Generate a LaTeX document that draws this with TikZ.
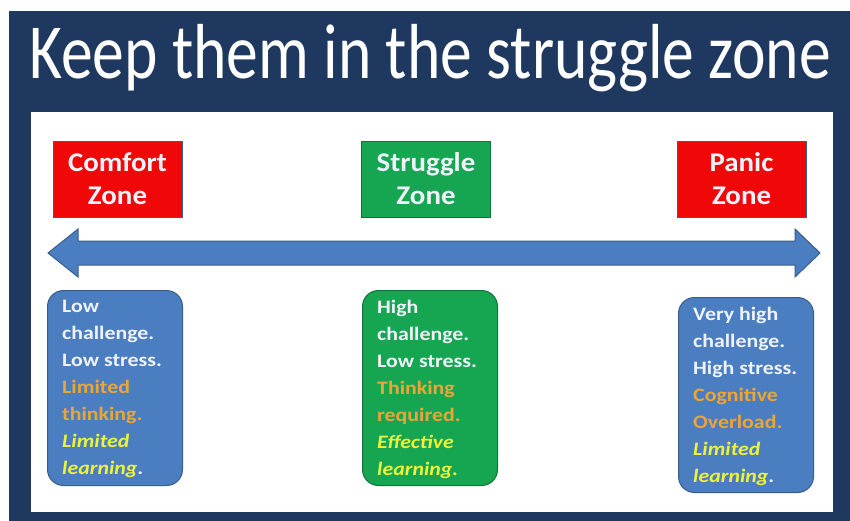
\documentclass[tikz,border=0pt]{standalone}
\usepackage{fontspec}
\setmainfont{Carlito}
\newfontfamily\titlefont[FakeStretch=0.815]{Carlito}
\newfontfamily\zonefont[FakeStretch=1.07]{Carlito}
\newfontfamily\bodyfont[FakeStretch=1.15]{Carlito}
\definecolor{navy}{RGB}{31,56,96}
\definecolor{zred}{RGB}{240,8,8}
\definecolor{zgreen}{RGB}{22,166,82}
\definecolor{bblue}{RGB}{74,126,193}
\definecolor{bborder}{RGB}{56,93,138}
\definecolor{wtxt}{RGB}{238,242,250}
\definecolor{otxt}{RGB}{236,166,52}
\definecolor{ytxt}{RGB}{238,242,58}
\tikzset{
  zonebox/.style={draw=bborder, line width=0.8pt, minimum width=129pt, minimum height=76pt,
    inner sep=0pt, align=center, text=wtxt, font=\zonefont\bfseries\fontsize{27}{33}\selectfont},
  bodybox/.style={draw=bborder, line width=1pt, rounded corners=16pt, minimum width=135pt,
    minimum height=195pt, anchor=north west, inner sep=0pt},
  bodytext/.style={anchor=north west, inner sep=0pt, align=left, text=wtxt,
    font=\bodyfont\bfseries\fontsize{19}{27}\selectfont},
  arrowshape/.style={fill=bblue, draw=bborder, line width=1pt}
}
\begin{document}
\begin{tikzpicture}[x=1pt,y=-1pt]
\useasboundingbox (0,0) rectangle (850,521);
\fill[white] (0,0) rectangle (850,521);
\fill[navy] (9,11) rectangle (850,521);
\fill[white] (31,112) rectangle (833,512);
\node[anchor=base west, inner sep=0pt, text=white, font=\titlefont\fontsize{78}{78}\selectfont] (title) at (29,79) {Keep them in the struggle zone};
% zone boxes
\node[zonebox, fill=zred] (comfort) at (117.5,179) {Comfort\\Zone};
\node[zonebox, fill=zgreen, draw=zgreen!70!black] (struggle) at (426,179) {Struggle\\Zone};
\node[zonebox, fill=zred] (panic) at (741.5,179) {Panic\\Zone};
% double arrow
\coordinate (ltip) at (48,253);
\coordinate (rtip) at (820,253);
\draw[arrowshape] (ltip) -- (78,229) -- (78,241) -- (795,241) -- (795,229) -- (rtip)
  -- (795,277) -- (795,265) -- (78,265) -- (78,277) -- cycle;
% body boxes
\node[bodybox, fill=bblue] (lbox) at (47,290) {};
\node[bodybox, fill=zgreen, draw=zgreen!70!black] (mbox) at (362,290) {};
\node[bodybox, fill=bblue] (rbox) at (678,297) {};
\node[bodytext] (ltxt) at (62,300) {Low\\challenge.\\Low stress.\\\textcolor{otxt}{Limited}\\\textcolor{otxt}{thinking.}\\\textcolor{ytxt}{\itshape Limited}\\\textcolor{ytxt}{\itshape learning}.};
\node[bodytext] (mtxt) at (377,300) {High\\challenge.\\Low stress.\\\textcolor{otxt}{Thinking}\\\textcolor{otxt}{required.}\\\textcolor{ytxt}{\itshape Effective}\\\textcolor{ytxt}{\itshape learning.}};
\node[bodytext] (rtxt) at (693,307) {Very high\\challenge.\\High stress.\\\textcolor{otxt}{Cognitive}\\\textcolor{otxt}{Overload.}\\\textcolor{ytxt}{\itshape Limited}\\\textcolor{ytxt}{\itshape learning}.};
\end{tikzpicture}
\end{document}
